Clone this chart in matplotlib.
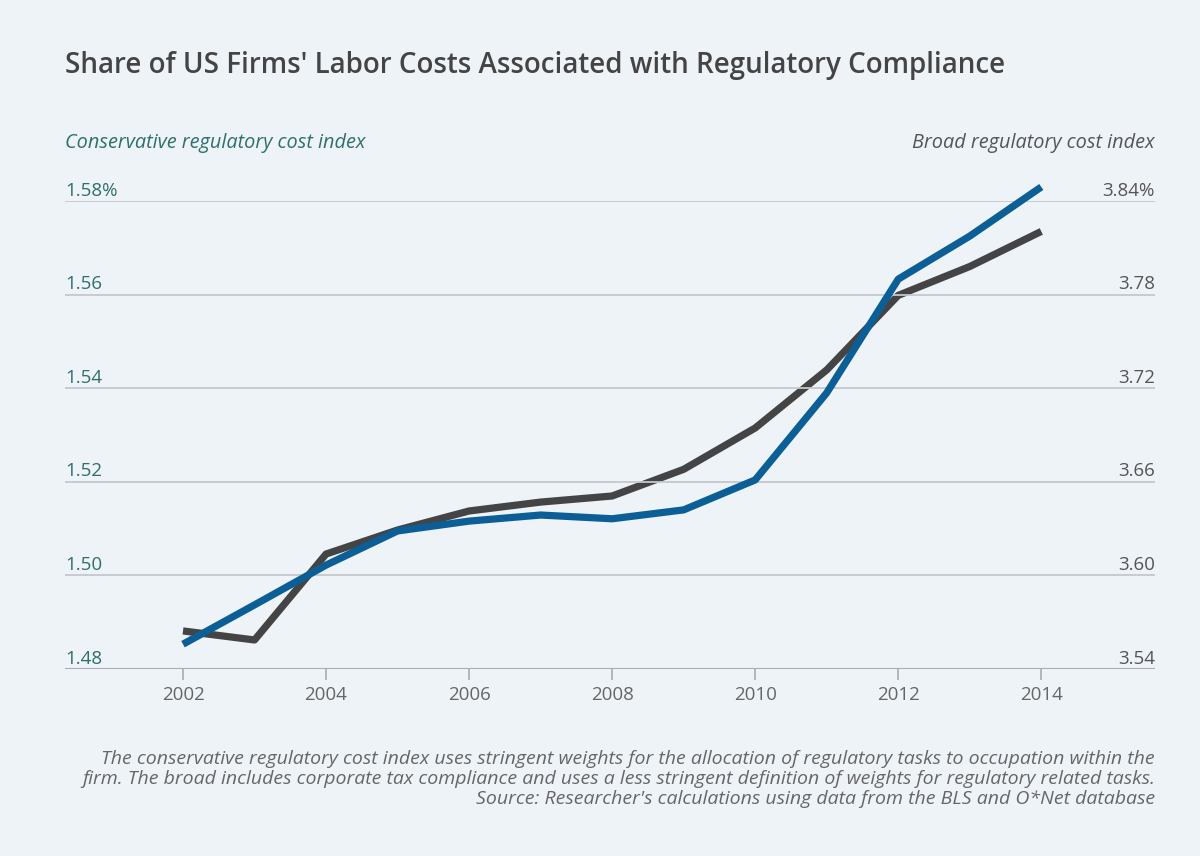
import matplotlib
matplotlib.use('Agg')
import matplotlib.pyplot as plt
import matplotlib.transforms as mtransforms

# Datos
years = [2002, 2003, 2004, 2005, 2006, 2007, 2008, 2009, 2010, 2011, 2012, 2013, 2014]
conservative = [1.4853, 1.4937, 1.5022, 1.5095, 1.5116, 1.5129, 1.5121, 1.5140,
                1.5204, 1.5390, 1.5633, 1.5725, 1.5830]
broad = [3.5644, 3.5586, 3.6137, 3.6291, 3.6413, 3.6470, 3.6509, 3.6680,
         3.6945, 3.7317, 3.7795, 3.7980, 3.8205]

left_ticks = [1.48, 1.50, 1.52, 1.54, 1.56, 1.58]
left_labels = ['1.48', '1.50', '1.52', '1.54', '1.56', '1.58%']
right_ticks = [3.54, 3.60, 3.66, 3.72, 3.78, 3.84]
right_labels = ['3.54', '3.60', '3.66', '3.72', '3.78', '3.84%']
x_ticks = [2002, 2004, 2006, 2008, 2010, 2012, 2014]

BG = '#eef3f8'
BLUE = '#0c5f96'
GRAY = '#444444'
TEAL = '#2f6f70'
TXT = '#555555'

plt.rcParams['font.family'] = ['Open Sans', 'DejaVu Sans']

fig = plt.figure(figsize=(12, 8.56), dpi=100, facecolor=BG)
ax = fig.add_axes([65 / 1200, 1 - 669 / 856, 1090 / 1200, 468 / 856])
ax2 = ax.twinx()

ax.set_xlim(2000.35, 2015.59)
ax.set_ylim(left_ticks[0], left_ticks[-1])
ax2.set_ylim(right_ticks[0], right_ticks[-1])

# líneas de la rejilla
for t in left_ticks[1:]:
    ax.axhline(t, color='#c4c8cc', linewidth=1.3, zorder=1)
ax.axhline(left_ticks[0], color='#a9adb2', linewidth=1.5, zorder=1)

ax2.plot(years, broad, color=GRAY, linewidth=5.2, solid_capstyle='butt',
         solid_joinstyle='round', clip_on=False, zorder=3)
ax.plot(years, conservative, color=BLUE, linewidth=5.2, solid_capstyle='butt',
        solid_joinstyle='round', clip_on=False, zorder=3)
ax.set_zorder(2)
ax.patch.set_visible(False)
ax2.patch.set_facecolor(BG)

for a in (ax, ax2):
    for s in a.spines.values():
        s.set_visible(False)
    a.set_yticks([])

ax.set_xticks(x_ticks)
ax.set_xticklabels([str(x) for x in x_ticks], fontsize=13.5, color='#666666')
ax.tick_params(axis='x', length=8, width=1.2, color='#a9adb2', pad=4, direction='out')

# etiquetas de eje encima de las líneas
trans_l = mtransforms.blended_transform_factory(ax.transAxes, ax.transData)
trans_r = mtransforms.blended_transform_factory(ax2.transAxes, ax2.transData)
for t, lab in zip(left_ticks, left_labels):
    ax.annotate(lab, (0.0, t), xycoords=trans_l, xytext=(0, 1), textcoords='offset points',
                ha='left', va='bottom', fontsize=13.5, color=TEAL)
for t, lab in zip(right_ticks, right_labels):
    ax2.annotate(lab, (1.0, t), xycoords=trans_r, xytext=(0, 1), textcoords='offset points',
                 ha='right', va='bottom', fontsize=13.5, color=TXT)

fig.text(65 / 1200, 1 - 66 / 856, "Share of US Firms' Labor Costs Associated with Regulatory Compliance",
         ha='left', va='center', fontsize=20, fontweight='semibold', color='#444444')
fig.text(65 / 1200, 1 - 143 / 856, 'Conservative regulatory cost index',
         ha='left', va='center', fontsize=14.3, style='italic', color=TEAL)
fig.text(1155 / 1200, 1 - 143 / 856, 'Broad regulatory cost index',
         ha='right', va='center', fontsize=14.3, style='italic', color=TXT)

note = ("The conservative regulatory cost index uses stringent weights for the allocation of regulatory tasks to occupation within the\n"
        "firm. The broad includes corporate tax compliance and uses a less stringent definition of weights for regulatory related tasks.\n"
        "Source: Researcher's calculations using data from the BLS and O*Net database")
fig.text(1155 / 1200, 1 - 779 / 856, note, ha='right', va='center', fontsize=14,
         style='italic', color='#666666', linespacing=1.15)

fig.savefig('out.png', dpi=100, facecolor=BG)
